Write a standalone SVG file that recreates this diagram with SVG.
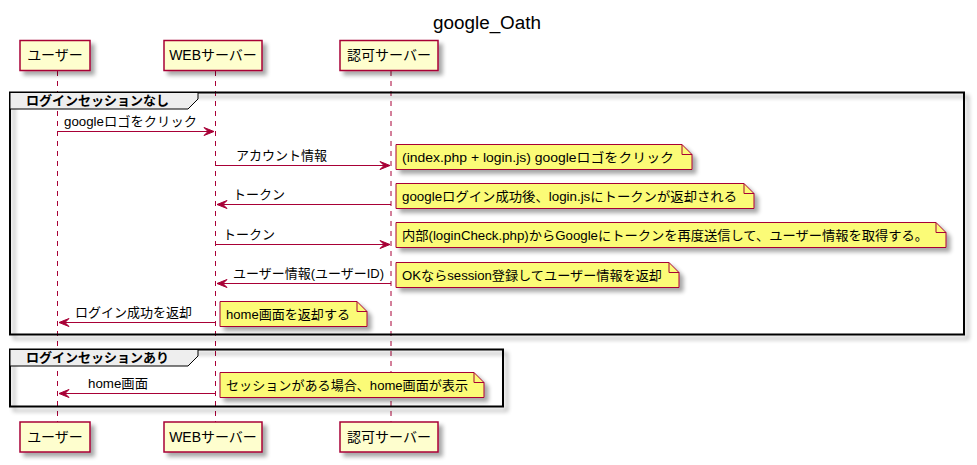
<svg xmlns="http://www.w3.org/2000/svg" width="977" height="465" viewBox="0 0 977 465">
<defs>
<filter id="sh" x="-10%" y="-20%" width="130%" height="160%">
<feGaussianBlur in="SourceAlpha" stdDeviation="2"/>
<feOffset dx="4" dy="4" result="b"/>
<feComponentTransfer><feFuncA type="linear" slope="0.35"/></feComponentTransfer>
<feMerge><feMergeNode/><feMergeNode in="SourceGraphic"/></feMerge>
</filter>
</defs>
<style>
text{font-family:"Liberation Sans","Noto Sans CJK JP",sans-serif;fill:#000}
.title{font-size:18px}
.part rect{fill:#FEFECE;stroke:#A80036;stroke-width:1.5}
.part text{font-size:14px;text-anchor:middle}
.life{stroke:#A80036;stroke-width:1;stroke-dasharray:5,5;fill:none}
.msg line{stroke:#A80036;stroke-width:1}
.msg polygon{fill:#A80036;stroke:#A80036;stroke-width:1}
.msg text{font-size:13px}
.note path.b{fill:#FBFB77;stroke:#A80036;stroke-width:1}
.note path.f{fill:none;stroke:#A80036;stroke-width:1}
.note text{font-size:13px}
.grp rect{fill:none;stroke:#000;stroke-width:2}
.grp path{fill:#EEEEEE;stroke:#000;stroke-width:1}
.grp text{font-size:13px;font-weight:bold}
</style>
<rect width="977" height="465" fill="#fff"/>
<text class="title" x="433" y="29" textLength="108" lengthAdjust="spacingAndGlyphs">google_Oath</text>

<g id="lifelines">
<line class="life" x1="57.5" y1="71" x2="57.5" y2="422"/>
<line class="life" x1="215.5" y1="71" x2="215.5" y2="422"/>
<line class="life" x1="391" y1="71" x2="391" y2="422"/>
</g>

<g id="group1" class="grp">
<rect x="10" y="92.5" width="954" height="242" filter="url(#sh)"/>
<path d="M10,92.5 H198 V99 L188,109 H10 Z"/>
<text x="26" y="105">ログインセッションなし</text>
</g>
<g id="group2" class="grp">
<rect x="10" y="349.5" width="493" height="57" filter="url(#sh)"/>
<path d="M10,349.5 H198 V356 L188,366 H10 Z"/>
<text x="26" y="362">ログインセッションあり</text>
</g>

<g id="p_user_top" class="part"><rect x="20" y="40.5" width="70" height="30" filter="url(#sh)"/><text x="55" y="60">ユーザー</text></g>
<g id="p_web_top" class="part"><rect x="164" y="40.5" width="98" height="30" filter="url(#sh)"/><text x="213" y="60">WEBサーバー</text></g>
<g id="p_auth_top" class="part"><rect x="340" y="40.5" width="98" height="30" filter="url(#sh)"/><text x="389" y="60">認可サーバー</text></g>
<g id="p_user_bot" class="part"><rect x="20" y="422" width="70" height="30" filter="url(#sh)"/><text x="55" y="441.5">ユーザー</text></g>
<g id="p_web_bot" class="part"><rect x="164" y="422" width="98" height="30" filter="url(#sh)"/><text x="213" y="441.5">WEBサーバー</text></g>
<g id="p_auth_bot" class="part"><rect x="340" y="422" width="98" height="30" filter="url(#sh)"/><text x="389" y="441.5">認可サーバー</text></g>

<g id="connectors" class="msg">
<line x1="57.5" y1="131.5" x2="214" y2="131.5"/><polygon points="204,127.5 214,131.5 204,135.5 208,131.5"/>
<text x="64" y="126" textLength="133" lengthAdjust="spacingAndGlyphs">googleロゴをクリック</text>
<line x1="215.5" y1="165.5" x2="390" y2="165.5"/><polygon points="380,161.5 390,165.5 380,169.5 384,165.5"/>
<text x="236" y="160">アカウント情報</text>
<line x1="217" y1="204.5" x2="391" y2="204.5"/><polygon points="227,200.5 217,204.5 227,208.5 223,204.5"/>
<text x="233" y="199">トークン</text>
<line x1="215.5" y1="244.5" x2="390" y2="244.5"/><polygon points="380,240.5 390,244.5 380,248.5 384,244.5"/>
<text x="223" y="239">トークン</text>
<line x1="217" y1="283.5" x2="391" y2="283.5"/><polygon points="227,279.5 217,283.5 227,287.5 223,283.5"/>
<text x="233" y="278" textLength="151" lengthAdjust="spacingAndGlyphs">ユーザー情報(ユーザーID)</text>
<line x1="59" y1="322.5" x2="215.5" y2="322.5"/><polygon points="69,318.5 59,322.5 69,326.5 65,322.5"/>
<text x="75" y="317">ログイン成功を返却</text>
<line x1="59" y1="393.5" x2="215.5" y2="393.5"/><polygon points="69,389.5 59,393.5 69,397.5 65,393.5"/>
<text x="88" y="388" textLength="60" lengthAdjust="spacingAndGlyphs">home画面</text>
</g>

<g id="note1" class="note"><path class="b" d="M396,144.5 V169.5 H692 V154.5 L682,144.5 Z" filter="url(#sh)"/><path class="f" d="M682,144.5 V154.5 H692"/><text x="402" y="161.5" textLength="272" lengthAdjust="spacingAndGlyphs">(index.php + login.js) googleロゴをクリック</text></g>
<g id="note2" class="note"><path class="b" d="M396,183.5 V208.5 H754 V193.5 L744,183.5 Z" filter="url(#sh)"/><path class="f" d="M744,183.5 V193.5 H754"/><text x="402" y="200.5" textLength="335" lengthAdjust="spacingAndGlyphs">googleログイン成功後、login.jsにトークンが返却される</text></g>
<g id="note3" class="note"><path class="b" d="M396,222.5 V247.5 H946 V232.5 L936,222.5 Z" filter="url(#sh)"/><path class="f" d="M936,222.5 V232.5 H946"/><text x="402" y="239.5" textLength="526" lengthAdjust="spacingAndGlyphs">内部(loginCheck.php)からGoogleにトークンを再度送信して、ユーザー情報を取得する。</text></g>
<g id="note4" class="note"><path class="b" d="M396,262.5 V287.5 H679 V272.5 L669,262.5 Z" filter="url(#sh)"/><path class="f" d="M669,262.5 V272.5 H679"/><text x="402" y="279.5" textLength="260" lengthAdjust="spacingAndGlyphs">OKならsession登録してユーザー情報を返却</text></g>
<g id="note5" class="note"><path class="b" d="M220,301.5 V326.5 H367 V311.5 L357,301.5 Z" filter="url(#sh)"/><path class="f" d="M357,301.5 V311.5 H367"/><text x="226" y="318.5" textLength="124" lengthAdjust="spacingAndGlyphs">home画面を返却する</text></g>
<g id="note6" class="note"><path class="b" d="M220,372.5 V397.5 H484 V382.5 L474,372.5 Z" filter="url(#sh)"/><path class="f" d="M474,372.5 V382.5 H484"/><text x="226" y="389.5" textLength="242" lengthAdjust="spacingAndGlyphs">セッションがある場合、home画面が表示</text></g>
</svg>
